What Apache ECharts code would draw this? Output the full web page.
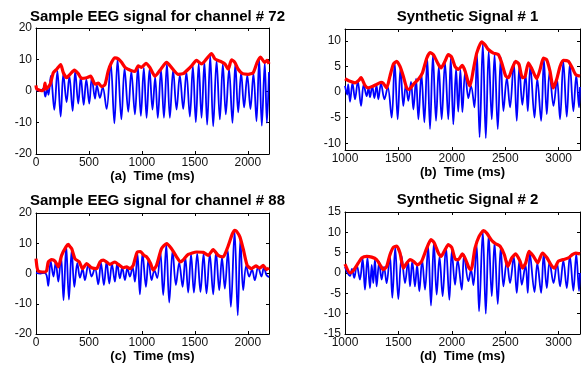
<!DOCTYPE html>
<html><head><meta charset="utf-8">
<script src="https://cdn.jsdelivr.net/npm/echarts@6/dist/echarts.min.js"></script>
<style>html,body{margin:0;padding:0;background:#fff}#c{width:584px;height:367px}</style>
</head><body><div id="c"></div><script>
// ---- Panel titles / axis names ----
const panelTitles = ['Sample EEG signal for channel # 72', 'Synthetic Signal # 1', 'Sample EEG signal for channel # 88', 'Synthetic Signal # 2'];
const axisNames = ['(a)  Time (ms)', '(b)  Time (ms)', '(c)  Time (ms)', '(d)  Time (ms)'];

// ---- Tick labels ----
const eegXTicks = [0, 500, 1000, 1500, 2000];
const synXTicks = [1000, 1500, 2000, 2500, 3000];
const eegYTicks = [-20, -10, 0, 10, 20];
const syn1YTicks = [-10, -5, 0, 5, 10];
const syn2YTicks = [-15, -10, -5, 0, 5, 10, 15];

// ---- (a) channel 72: signal [time ms, value] and envelope ----
const sigA = [[0,0.3],[45,0.1],[70,0.8],[88,-1.8],[105,0.8],[118,-1.2],[140,4.8],[173,-6],[202,6.4],[233,-8.1],[258,5.5],[289,-3.5],[315,4.8],[346,-6.3],[370,6.3],[399,-4],[423,4.5],[450,-4.4],[475,3.8],[503,-4],[527,4.3],[557,-2.4],[575,1.8],[604,-2.2],[630,1.2],[667,-5.7],[705,9],[740,-10.3],[770,10],[806,-9],[836,7.2],[871,-6.6],[900,6.2],[934,-7.4],[962,7.6],[990,-7.9],[1018,7.4],[1044,-8.5],[1072,7],[1100,-5.9],[1125,4.4],[1150,-8.5],[1180,6.7],[1208,-8.5],[1236,8.7],[1264,-8.5],[1295,6.7],[1327,-5.9],[1358,5],[1390,-5.7],[1420,6],[1453,-8.1],[1481,8],[1509,-9.9],[1536,8.8],[1563,-8.5],[1590,9.2],[1616,-10.7],[1645,11.2],[1673,-11.2],[1705,9.6],[1736,-9],[1764,8.6],[1792,-7.4],[1823,7],[1855,-10.1],[1882,8.7],[1909,-6.8],[1937,5.8],[1965,-5.2],[1995,5],[2025,-5.7],[2053,5.6],[2082,-9.6],[2107,10.2],[2132,-11],[2160,9],[2180,-10.1],[2200,6]];
const envA = [[0,1.8],[6,0.7],[53,0.1],[75,0.5],[85,2.5],[95,0.6],[132,2],[164,5.8],[195,6.9],[233,8.4],[258,5.8],[289,4.2],[321,5.3],[362,6.6],[399,5.5],[431,4],[478,4.2],[516,4.7],[557,2.2],[588,2.5],[620,1.4],[651,2],[682,6.4],[714,9.1],[745,10.5],[777,10.2],[808,9.1],[840,7.5],[871,6.9],[903,6.4],[934,6.2],[965,8],[997,7.5],[1038,8.8],[1075,7.5],[1123,4.7],[1180,7],[1233,9.1],[1290,7],[1343,5.3],[1390,5.5],[1437,6.9],[1469,8],[1516,9.7],[1563,8.6],[1610,10.2],[1657,11.9],[1689,10.2],[1736,9.5],[1783,8.6],[1815,6.9],[1846,9.9],[1877,9.1],[1909,6.9],[1950,5.5],[2003,5.3],[2050,5.8],[2088,9.1],[2119,10.8],[2160,9.1],[2182,9.7],[2200,8.6]];

// ---- (b) synthetic #1 ----
const sigB = [[1000,1.2],[1020,-0.5],[1030,1.5],[1047,-1.9],[1070,1.8],[1094,-1.4],[1120,2.2],[1150,-2.7],[1175,1.5],[1203,-0.8],[1220,0.8],[1234,-1],[1255,1.2],[1275,-1.2],[1295,1.3],[1312,-1.4],[1337,1.7],[1369,-1.4],[1400,1],[1437,-5],[1465,5.8],[1493,-5.3],[1520,4.8],[1546,-2.7],[1570,1.5],[1593,-1.7],[1618,2],[1640,-3.4],[1665,2.6],[1687,-5.3],[1715,3.6],[1743,-5.9],[1770,6.6],[1796,-7.2],[1823,7.2],[1852,-5.6],[1878,5],[1905,-5.3],[1936,5.8],[1967,-5.3],[1990,6.6],[2014,-6.3],[2040,4.6],[2060,-3.8],[2080,4.4],[2099,-3.9],[2125,4],[2155,-1.2],[2180,1.2],[2212,-3],[2235,7.5],[2260,-8.8],[2290,9.5],[2318,-9],[2345,8],[2374,-5.3],[2400,7.3],[2430,-7.2],[2458,6.8],[2483,-3.7],[2515,2.8],[2545,-3],[2580,5.8],[2608,-5.6],[2632,5],[2660,-2.5],[2690,3.5],[2711,-3.7],[2735,5.2],[2774,-5],[2800,2.6],[2836,-5.6],[2862,6.4],[2889,-4.3],[2915,4],[2952,-2.7],[2985,2.5],[3013,-5.3],[3044,6],[3076,-4.8],[3105,5.5],[3138,-3.7],[3165,3.3],[3191,-3],[3200,1]];
const envB = [[1000,2.6],[1047,2.1],[1094,1.8],[1125,2.2],[1150,2.8],[1187,1.3],[1218,0.8],[1256,1.1],[1296,1.5],[1337,1.9],[1359,1.7],[1390,0.8],[1421,3.1],[1452,5.4],[1484,6],[1515,5],[1546,3.1],[1577,0.8],[1599,0.5],[1640,1.5],[1687,2.5],[1724,3.7],[1765,6.6],[1796,7.7],[1827,7.3],[1874,5.4],[1899,4.7],[1936,6],[1967,7.3],[1999,6.8],[2030,5],[2061,4.4],[2099,5.2],[2124,4.1],[2155,1.8],[2170,1.2],[2202,4.4],[2233,7.6],[2280,9.8],[2311,9.2],[2342,8.3],[2389,7.6],[2436,7.3],[2467,5.7],[2505,3.1],[2530,2.8],[2561,4.4],[2598,6],[2629,5.4],[2660,2.8],[2685,3],[2717,5.7],[2748,4.6],[2795,2.6],[2826,4.4],[2857,6.6],[2888,6.3],[2919,4.1],[2950,0.8],[2982,2.5],[3013,5],[3044,6.2],[3091,6],[3128,4.7],[3160,3.4],[3200,3.1]];

// ---- (c) channel 88 ----
const sigC = [[0,0.2],[40,0],[80,0.2],[100,-0.6],[116,-4.1],[138,4.2],[165,-1],[186,3.8],[211,-2.7],[236,6],[260,-8.8],[285,9.2],[311,-8.6],[337,7.8],[362,-4.4],[390,3.5],[415,-1.4],[440,1.5],[462,-2.2],[494,3],[525,-1],[557,1.8],[588,-3.6],[613,3.6],[641,-3.8],[667,4],[692,-3.3],[717,3.2],[745,-2.7],[767,3.4],[792,-1.6],[814,2],[840,-2.2],[862,1.8],[887,-1],[912,2.2],[934,-2.7],[958,6.6],[981,-6.9],[1006,6.8],[1038,-4.4],[1063,5],[1091,-2.2],[1118,1],[1145,-1.5],[1173,7.5],[1201,-7.1],[1230,9.5],[1258,-9.6],[1290,7.6],[1321,-3.8],[1352,3.6],[1384,-4.4],[1410,5.3],[1437,-6.3],[1464,6.4],[1491,-6.3],[1522,6.6],[1553,-6.1],[1582,6.5],[1610,-6.6],[1641,6.4],[1673,-6.9],[1700,7.2],[1730,-5.5],[1756,5.3],[1783,-5],[1812,7.5],[1840,-11],[1875,14],[1905,-13.8],[1930,11.5],[1956,-5.5],[1985,2.5],[2013,-1],[2040,1.3],[2066,-2.2],[2097,2.2],[2129,-1],[2152,2],[2176,-0.5],[2200,-1.2]];
const envC = [[0,4.9],[10,2],[22,0.8],[60,0.5],[85,0.5],[101,1],[116,3.8],[148,4.6],[179,4.1],[211,2.2],[242,6],[283,8.8],[305,9.6],[320,8.9],[337,8.2],[368,4.9],[409,3.8],[440,1.6],[478,3.3],[525,1.9],[572,1.6],[604,3.8],[635,4.4],[667,3.8],[698,3],[745,3.8],[777,3],[824,1.9],[855,2.2],[887,1.6],[918,2.7],[956,7.1],[987,7.2],[1019,6],[1044,5.5],[1082,3.3],[1107,1.1],[1138,2.7],[1185,8.2],[1233,9.9],[1280,8.2],[1327,5.5],[1365,3.8],[1390,4.5],[1437,6.3],[1516,7.1],[1579,7],[1626,6],[1673,7.9],[1720,6],[1767,5.5],[1805,8.2],[1855,13.2],[1878,14.3],[1893,14],[1925,12.1],[1956,8.2],[1994,2.7],[2035,1.6],[2076,2.5],[2113,1.8],[2145,2.7],[2176,1.3],[2200,1.8]];

// ---- (d) synthetic #2 ----
const sigD = [[1000,1.5],[1020,0.2],[1047,-0.7],[1065,1],[1087,-1.2],[1110,2],[1140,-1.6],[1165,3.5],[1187,-4.1],[1210,3.8],[1234,-3.7],[1250,2],[1265,-2.5],[1280,3.4],[1296,-3.3],[1320,2.8],[1343,-1.6],[1365,1.5],[1390,-2.5],[1420,4.3],[1443,-6.1],[1470,6.3],[1499,-6.4],[1530,4.2],[1562,-2.5],[1590,3],[1609,-3.3],[1630,3],[1655,-3.3],[1675,2],[1696,-4.5],[1722,3.3],[1749,-4.1],[1778,6.6],[1805,-8],[1832,7.5],[1858,-5.3],[1885,4],[1914,-5.7],[1945,6.5],[1977,-6.6],[2000,5.5],[2030,-2.9],[2055,3.2],[2093,-4.1],[2115,4.5],[2155,-2],[2180,0.8],[2202,-3],[2232,7],[2255,-9.4],[2290,10.2],[2318,-10],[2345,9.5],[2374,-5.7],[2400,7.5],[2430,-7.6],[2458,6.4],[2483,-3.3],[2515,3],[2545,-2.5],[2580,4],[2608,-4.9],[2632,3],[2655,-2.9],[2690,2],[2711,-4.9],[2730,5],[2774,-4.7],[2800,2.4],[2836,-4.9],[2860,4.7],[2889,-3.7],[2915,2.8],[2952,-2.5],[2985,2.5],[3013,-3.3],[3044,3.1],[3076,-3.7],[3105,4.2],[3138,-4.3],[3165,4.7],[3191,-4.4],[3200,0]];
const envD = [[1000,2.2],[1047,0],[1078,0.6],[1125,2.5],[1156,3.7],[1203,4.1],[1250,3.9],[1296,3.3],[1328,2],[1359,0.8],[1390,1.6],[1421,4.5],[1452,6.3],[1484,6.6],[1515,4.9],[1546,1.2],[1577,2.4],[1609,3.3],[1640,2.9],[1680,2],[1718,2.9],[1765,6.1],[1805,8.2],[1836,7.4],[1874,4.9],[1899,4.1],[1936,5.7],[1967,7],[1999,6.3],[2036,3.3],[2061,3.3],[2099,4.7],[2130,3.3],[2161,1.2],[2180,0.8],[2217,6.1],[2255,9],[2296,10.4],[2327,9.8],[2374,8],[2411,7.2],[2452,6.6],[2492,4.5],[2524,1.6],[2561,3.7],[2598,4.7],[2639,2.9],[2661,1.2],[2692,2.5],[2723,5.3],[2764,4.1],[2804,2.5],[2848,4.9],[2889,3.8],[2929,2],[2960,1.2],[2998,2.9],[3044,3.3],[3091,3.7],[3128,4.5],[3160,4.9],[3200,4.7]];

// ---- layout ----
const FONT = '"Liberation Sans", Arial, Helvetica, sans-serif';
const grids = [
  {left:36, top:28, width:233, height:126},
  {left:345, top:29, width:235, height:121},
  {left:36, top:213, width:233, height:121},
  {left:345, top:212, width:235, height:122}
];
const xRanges = [[0,2200],[1000,3200],[0,2200],[1000,3200]];
const yRanges = [[-20,20],[-11.3,12.3],[-20,20],[-15,15]];
const xTickSets = [eegXTicks, synXTicks, eegXTicks, synXTicks];
const yTickSets = [eegYTicks, syn1YTicks, eegYTicks, syn2YTicks];
const titleY = [4, 4, 188, 187];
const nameGaps = [11, 14, 11, 13];
const sigs = [sigA, sigB, sigC, sigD];
const envs = [envA, envB, envC, envD];
const plain = v => String(v);

const xAxis = [], yAxis = [], series = [], title = [];
grids.forEach((g, i) => {
  const lineStyle = {color:'#000', width:1};
  const tick = (vals) => ({show:true, inside:true, length:3, customValues:vals, lineStyle:{color:'#000', width:1}});
  xAxis.push({type:'value', gridIndex:i, min:xRanges[i][0], max:xRanges[i][1], position:'bottom',
    axisLine:{show:true, onZero:false, lineStyle}, splitLine:{show:false}, axisTick:tick(xTickSets[i]),
    axisLabel:{customValues:xTickSets[i], formatter:plain, color:'#111', fontSize:12, fontFamily:FONT, margin:3},
    name:axisNames[i], nameLocation:'middle', nameGap:nameGaps[i],
    nameTextStyle:{fontWeight:'bold', fontSize:13, fontFamily:FONT, color:'#000'}});
  xAxis.push({type:'value', gridIndex:i, min:xRanges[i][0], max:xRanges[i][1], position:'top',
    axisLine:{show:true, onZero:false, lineStyle}, splitLine:{show:false}, axisTick:tick(xTickSets[i]),
    axisLabel:{show:false}});
  yAxis.push({type:'value', gridIndex:i, min:yRanges[i][0], max:yRanges[i][1], position:'left',
    axisLine:{show:true, onZero:false, lineStyle}, splitLine:{show:false}, axisTick:tick(yTickSets[i]),
    axisLabel:{customValues:yTickSets[i], formatter:plain, color:'#111', fontSize:12, fontFamily:FONT, margin:4}});
  yAxis.push({type:'value', gridIndex:i, min:yRanges[i][0], max:yRanges[i][1], position:'right',
    axisLine:{show:true, onZero:false, lineStyle}, splitLine:{show:false}, axisTick:tick(yTickSets[i]),
    axisLabel:{show:false}});
  title.push({text:panelTitles[i], left:g.left + g.width/2, top:titleY[i], textAlign:'center',
    textStyle:{fontWeight:'bold', fontSize:15, fontFamily:FONT, color:'#000'}});
  series.push({type:'line', xAxisIndex:2*i, yAxisIndex:2*i, data:sigs[i], showSymbol:false, symbol:'none',
    smooth:0.35, lineStyle:{color:'#0000ff', width:1.8}, itemStyle:{color:'#0000ff'}, z:2, clip:true});
  series.push({type:'line', xAxisIndex:2*i, yAxisIndex:2*i, data:envs[i], showSymbol:false, symbol:'none',
    smooth:0.2, lineStyle:{color:'#ff0000', width:3.2}, itemStyle:{color:'#ff0000'}, z:3, clip:true});
});

const chart = echarts.init(document.getElementById('c'), null, {renderer:'canvas'});
chart.setOption({animation:false, backgroundColor:'#fff', title, grid:grids, xAxis, yAxis, series});
</script></body></html>
